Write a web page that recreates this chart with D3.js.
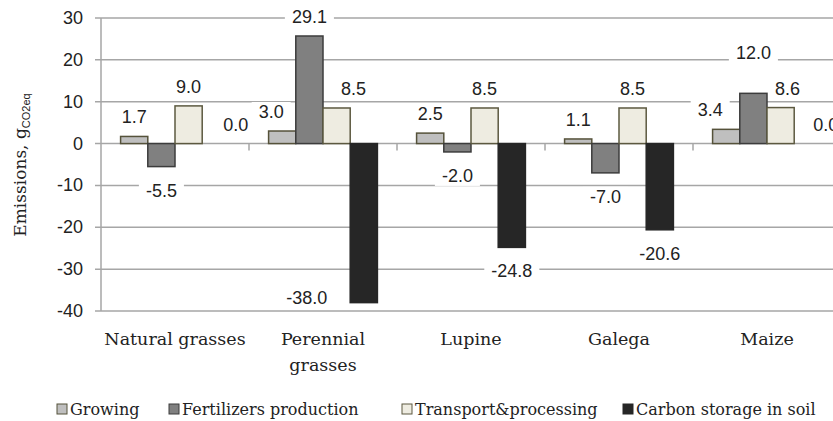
<!doctype html>
<html>
  <head>
    <script src="https://cdnjs.cloudflare.com/ajax/libs/d3/7.8.5/d3.min.js"></script>
    <style>
      body { margin: 0; background: #fff; }
      svg { display: block; }
      .grid line { stroke: #a6a6a6; stroke-width: 1.5px; }
      .tick-label { font-family: "Liberation Sans", Arial, sans-serif; font-size: 18px; fill: #222; }
      .val { font-family: "Liberation Sans", Arial, sans-serif; font-size: 18px; fill: #222; }
      .cat { font-family: "DejaVu Serif", serif; font-size: 17.5px; fill: #222; }
      .legend text { font-family: "DejaVu Serif", serif; font-size: 16px; fill: #222; }
      .ytitle { font-family: "DejaVu Serif", serif; font-size: 17px; fill: #222; }
    </style>
  </head>
  <body>
    <svg width="833" height="421"></svg>
    <script>
      // categories and series
      var categories = ["Natural grasses", "Perennial grasses", "Lupine", "Galega", "Maize"];
      var seriesNames = ["Growing", "Fertilizers production", "Transport&processing", "Carbon storage in soil"];

      var growing = [1.7, 3.0, 2.5, 1.1, 3.4];
      var fertilizers = [-5.5, 25.7, -2.0, -7.0, 12.0];   // bar heights as drawn
      var fertilizersPrinted = ["-5.5", "29.1", "-2.0", "-7.0", "12.0"]; // the printed labels
      var transport = [9.0, 8.5, 8.5, 8.5, 8.6];
      var carbon = [0.0, -38.0, -24.8, -20.6, 0.0];

      var yTicks = [-40, -30, -20, -10, 0, 10, 20, 30];

      var colors = {
        "Growing": { fill: "#bfbfbf", stroke: "#55523a" },
        "Fertilizers production": { fill: "#808080", stroke: "#3c3c3c" },
        "Transport&processing": { fill: "#eeece1", stroke: "#5c5940" },
        "Carbon storage in soil": { fill: "#262626", stroke: "#262626" }
      };

      // label shifts where excel moved the label away from its bar
      var nudge = {
        "0-3": [20, 0], "1-0": [-11, 0], "1-2": [17, 0], "1-3": [-57, -29],
        "4-0": [-16, 0], "4-1": [0, -21], "4-2": [7, 0], "4-3": [18, 0]
      };

      var seriesValues = [growing, fertilizers, transport, carbon];
      var rows = [];
      categories.forEach((c, i) => {
        seriesValues.forEach((vals, j) => {
          var label = j === 1 ? fertilizersPrinted[i] : vals[i].toFixed(1);
          rows.push({ ci: i, si: j, cat: c, series: seriesNames[j], value: vals[i], label: label });
        });
      });

      var svg = d3.select("svg");
      var plotL = 101, plotR = 841, plotT = 18, plotB = 311;

      var x0 = d3.scaleBand().domain(categories).range([plotL, plotR]);
      var x1 = d3.scaleBand().domain(seriesNames).range([0, x0.bandwidth()]).paddingOuter(0.72);
      var y = d3.scaleLinear().domain([-40, 30]).range([plotB, plotT]);

      // gridlines
      svg.append("g").attr("class", "grid")
        .selectAll("line").data(yTicks).enter().append("line")
          .attr("x1", plotL - 6).attr("x2", plotR)
          .attr("y1", d => y(d)).attr("y2", d => y(d));

      // y axis line
      svg.append("line")
        .attr("x1", plotL).attr("x2", plotL).attr("y1", plotT).attr("y2", plotB)
        .attr("stroke", "#a6a6a6").attr("stroke-width", 1.5);

      svg.selectAll("text.tick-label").data(yTicks).enter().append("text")
        .attr("class", "tick-label")
        .attr("x", 83).attr("y", d => y(d))
        .attr("text-anchor", "end").attr("dominant-baseline", "central")
        .text(d => d);

      // category ticks under the zero line
      svg.append("g").selectAll("line").data(categories.slice(1)).enter().append("line")
        .attr("x1", d => x0(d)).attr("x2", d => x0(d))
        .attr("y1", y(0)).attr("y2", y(0) + 7)
        .attr("stroke", "#a6a6a6").attr("stroke-width", 1.5);

      // bars
      svg.append("g").selectAll("rect").data(rows).enter().append("rect")
        .attr("x", d => x0(d.cat) + x1(d.series))
        .attr("width", x1.bandwidth())
        .attr("y", d => y(Math.max(0, d.value)))
        .attr("height", d => Math.abs(y(d.value) - y(0)))
        .attr("fill", d => colors[d.series].fill)
        .attr("stroke", d => colors[d.series].stroke)
        .attr("stroke-width", 1.5);

      // value labels with white boxes that cut the gridlines
      var lab = svg.append("g").selectAll("g").data(rows).enter().append("g")
        .attr("transform", d => {
          var n = nudge[d.ci + "-" + d.si] || [0, 0];
          var cx = x0(d.cat) + x1(d.series) + x1.bandwidth() / 2 + n[0];
          var cy = d.value >= 0 ? y(d.value) - 19 : y(d.value) + 24;
          return "translate(" + cx + "," + (cy + n[1]) + ")";
        });
      lab.append("text").attr("class", "val")
        .attr("text-anchor", "middle").attr("dominant-baseline", "central")
        .text(d => d.label);
      lab.insert("rect", "text").each(function() {
        var b = this.parentNode.querySelector("text").getBBox();
        d3.select(this).attr("x", b.x - 7).attr("y", b.y).attr("width", b.width + 14).attr("height", b.height)
          .attr("fill", "#fff");
      });

      // category labels
      var catLines = { "Perennial grasses": ["Perennial", "grasses"] };
      svg.selectAll("text.cat").data(categories).enter().append("text")
        .attr("class", "cat")
        .attr("x", d => x0(d) + x0.bandwidth() / 2)
        .attr("y", 345)
        .attr("text-anchor", "middle")
        .each(function(d) {
          var lines = catLines[d] || [d];
          d3.select(this).selectAll("tspan").data(lines).enter().append("tspan")
            .attr("x", x0(d) + x0.bandwidth() / 2)
            .attr("dy", (l, i) => i === 0 ? 0 : 26)
            .text(l => l);
        });

      // y title
      var yt = svg.append("text").attr("class", "ytitle")
        .attr("transform", "translate(26,165) rotate(-90)")
        .attr("text-anchor", "middle");
      yt.append("tspan").text("Emissions, g");
      yt.append("tspan").attr("dy", 4).style("font-family", "'Liberation Sans', Arial, sans-serif")
        .style("font-size", "11px").text("CO2eq");

      // legend
      var legendX = [57, 169, 402, 623];
      var lg = svg.append("g").attr("class", "legend").selectAll("g").data(seriesNames).enter().append("g")
        .attr("transform", (d, i) => "translate(" + legendX[i] + ",404)");
      lg.append("rect").attr("width", 10).attr("height", 10)
        .attr("fill", d => colors[d].fill).attr("stroke", d => colors[d].stroke).attr("stroke-width", 1);
      lg.append("text").attr("x", 13).attr("y", 11).text(d => d);
    </script>
  </body>
</html>
